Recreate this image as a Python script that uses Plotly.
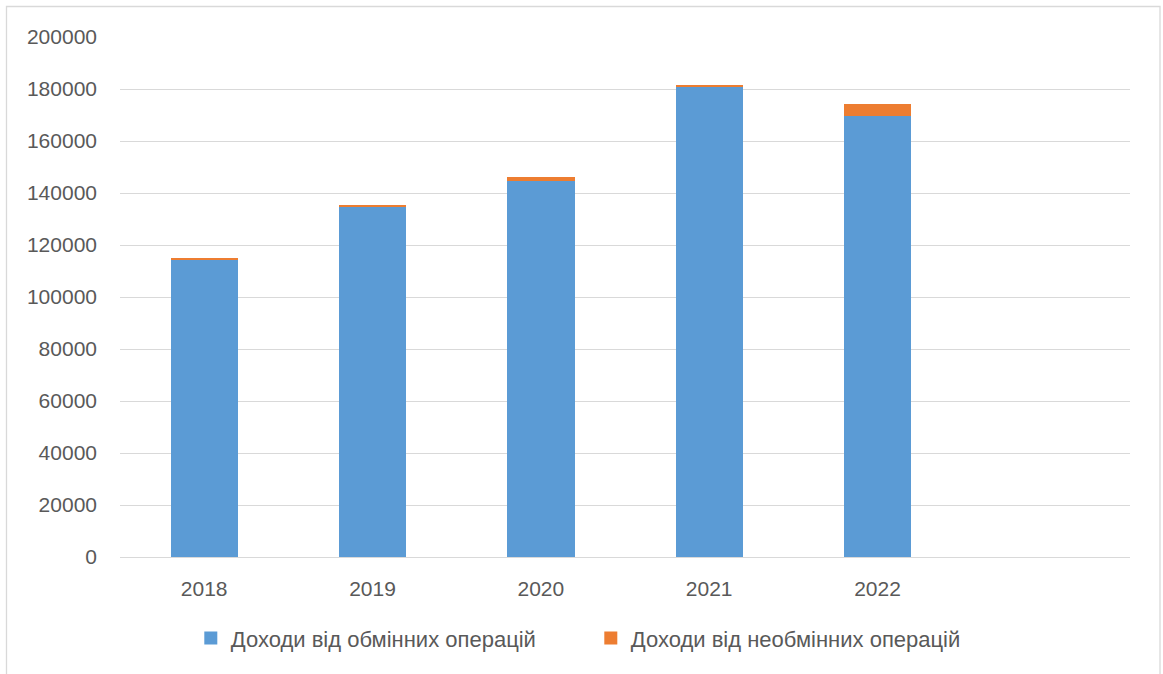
import plotly.graph_objects as go

years = ["2018", "2019", "2020", "2021", "2022"]
exchange = [114300, 134900, 144700, 180900, 169500]
non_exchange = [700, 400, 1400, 650, 4600]
series_names = ["Доходи від обмінних операцій", "Доходи від необмінних операцій"]
colors = ["#5B9BD5", "#ED7D31"]
y_ticks = [0, 20000, 40000, 60000, 80000, 100000, 120000, 140000, 160000, 180000, 200000]

positions = list(range(len(years)))
font = dict(family="Liberation Sans, Arial, sans-serif", size=21, color="#595959")
legend_font = dict(family="Liberation Sans, Arial, sans-serif", size=22, color="#595959")

fig = go.Figure()
for vals, name, col in zip([exchange, non_exchange], series_names, colors):
    fig.add_trace(go.Bar(x=positions, y=vals, name=name, showlegend=False,
                         marker=dict(color=col, line=dict(width=0))))
# legend entries with square swatches
for name, col in zip(series_names, colors):
    fig.add_trace(go.Scatter(x=[None], y=[None], mode="markers", name=name,
                             marker=dict(symbol="square", size=13, color=col)))

W, H = 1163, 674
L, R, T, B = 120, 33, 37, 117
pw, ph = W - L - R, H - T - B

def px_x(p):
    return (p - L) / pw

def px_y(p):
    return (H - B - p) / ph

fig.update_layout(
    width=W, height=H,
    margin=dict(l=L, r=R, t=T, b=B),
    barmode="stack",
    bargap=0.6,
    paper_bgcolor="white",
    plot_bgcolor="white",
    font=font,
    showlegend=True,
    legend=dict(orientation="h", xref="container", x=0.508, xanchor="center",
                yref="container", y=0.053, yanchor="middle",
                font=legend_font, traceorder="normal", itemwidth=30,
                entrywidth=355, entrywidthmode="pixels",
                tracegroupgap=0),
    xaxis=dict(range=[-0.5, 5.5], tickvals=positions, ticktext=years,
               showgrid=False, zeroline=False, showline=False, ticks="",
               ticklabelstandoff=17, tickfont=font),
    yaxis=dict(range=[0, 200000], tickvals=y_ticks, ticktext=[str(v) for v in y_ticks],
               showgrid=True, gridcolor="#D9D9D9", gridwidth=1.3,
               zeroline=True, zerolinecolor="#D9D9D9", zerolinewidth=1.3,
               showline=False, ticks="", ticklabelstandoff=22, tickfont=font),
    shapes=[dict(type="rect", xref="paper", yref="paper",
                 x0=px_x(6.5), x1=px_x(1160), y0=px_y(700), y1=px_y(6.5),
                 line=dict(color="#D9D9D9", width=1.3), fillcolor="rgba(0,0,0,0)",
                 layer="below")],
)

fig.write_html("out.html")
